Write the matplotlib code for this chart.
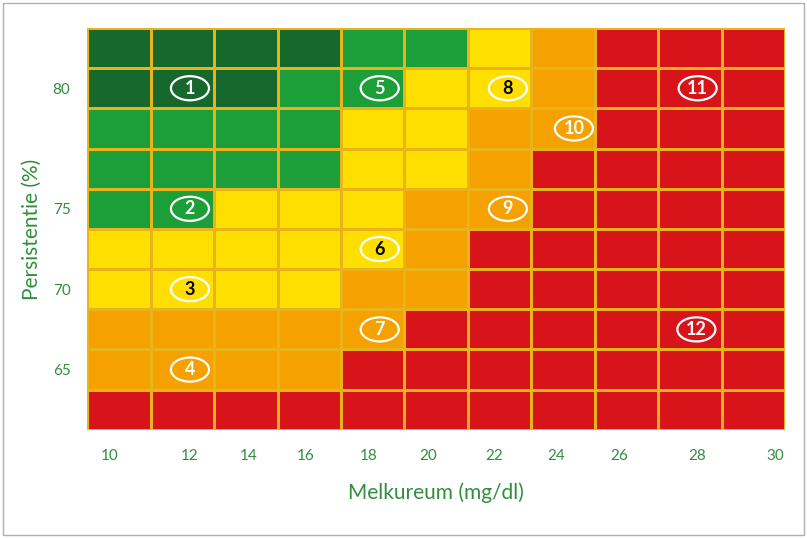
import matplotlib
matplotlib.use("Agg")
import matplotlib.pyplot as plt
from matplotlib.colors import ListedColormap
from matplotlib.patches import Rectangle, Circle
import numpy as np

plt.rcParams['font.family'] = ['Lato', 'DejaVu Sans']

x_labels = ['10', '12', '14', '16', '18', '20', '22', '24', '26', '28', '30']
y_labels = ['80', '75', '70', '65']
# 0 dark green, 1 green, 2 yellow, 3 orange, 4 red ; rows top->bottom
grid = [
    "00001123444",
    "00011223444",
    "11112233444",
    "11112234444",
    "11222334444",
    "22222344444",
    "22223344444",
    "33333444444",
    "33334444444",
    "44444444444",
]
markers = ['1', '2', '3', '4', '5', '6', '7', '8', '9', '10', '11', '12']
marker_text_dark = [False, False, True, False, False, True, False, True, False, False, False, False]

# layout positions (axis units)
xtick_pos = [0.36, 1.62, 2.54, 3.45, 4.43, 5.37, 6.41, 7.39, 8.39, 9.62, 10.85]
ytick_pos = [1.5, 4.5, 6.5, 8.5]
marker_pos = [(1.62, 1.5), (1.62, 4.5), (1.62, 6.5), (1.62, 8.5), (4.61, 1.5), (4.61, 5.5),
              (4.61, 7.5), (6.63, 1.5), (6.63, 4.5), (7.67, 2.5), (9.62, 1.5), (9.6, 7.5)]

colors = ['#17682c', '#1c9e38', '#ffdf00', '#f5a100', '#d8141b']
data = np.array([[int(c) for c in row] for row in grid])

fig = plt.figure(figsize=(8.07, 5.38), dpi=100)
fig.patches.append(Rectangle((0.004, 0.006), 0.992, 0.988, transform=fig.transFigure,
                             fill=False, edgecolor='#b0b0b0', lw=1))
ax = fig.add_axes([0.108, 0.201, 0.865, 0.747])
ax.pcolormesh(np.arange(12), np.arange(11), data, cmap=ListedColormap(colors),
              vmin=-0.5, vmax=4.5, edgecolors='#e9b31c', linewidth=0.8)
ax.set_xlim(0, 11)
ax.set_ylim(10, 0)
for s in ax.spines.values():
    s.set_visible(False)
green = '#2f8f3c'
ax.set_xticks(xtick_pos, x_labels)
ax.set_yticks(ytick_pos, y_labels)
ax.tick_params(length=0, colors=green, labelsize=11, pad=14)
ax.tick_params(axis='y', pad=12)
ax.set_xlabel('Melkureum (mg/dl)', color=green, fontsize=15, labelpad=14)
ax.set_ylabel('Persistentie (%)', color=green, fontsize=15, labelpad=8)

for m, (x, y), dark in zip(markers, marker_pos, marker_text_dark):
    ax.add_patch(Circle((x, y), 0.3, transform=ax.transData, fill=False, edgecolor='white', lw=1.6))
    ax.text(x, y, m, ha='center', va='center', fontsize=13, fontweight='bold',
            color='black' if dark else 'white')
for p in ax.patches:
    p.set_transform(ax.transData)

# keep circles round
for p in ax.patches:
    pass

fig.savefig('out.png', dpi=100)
